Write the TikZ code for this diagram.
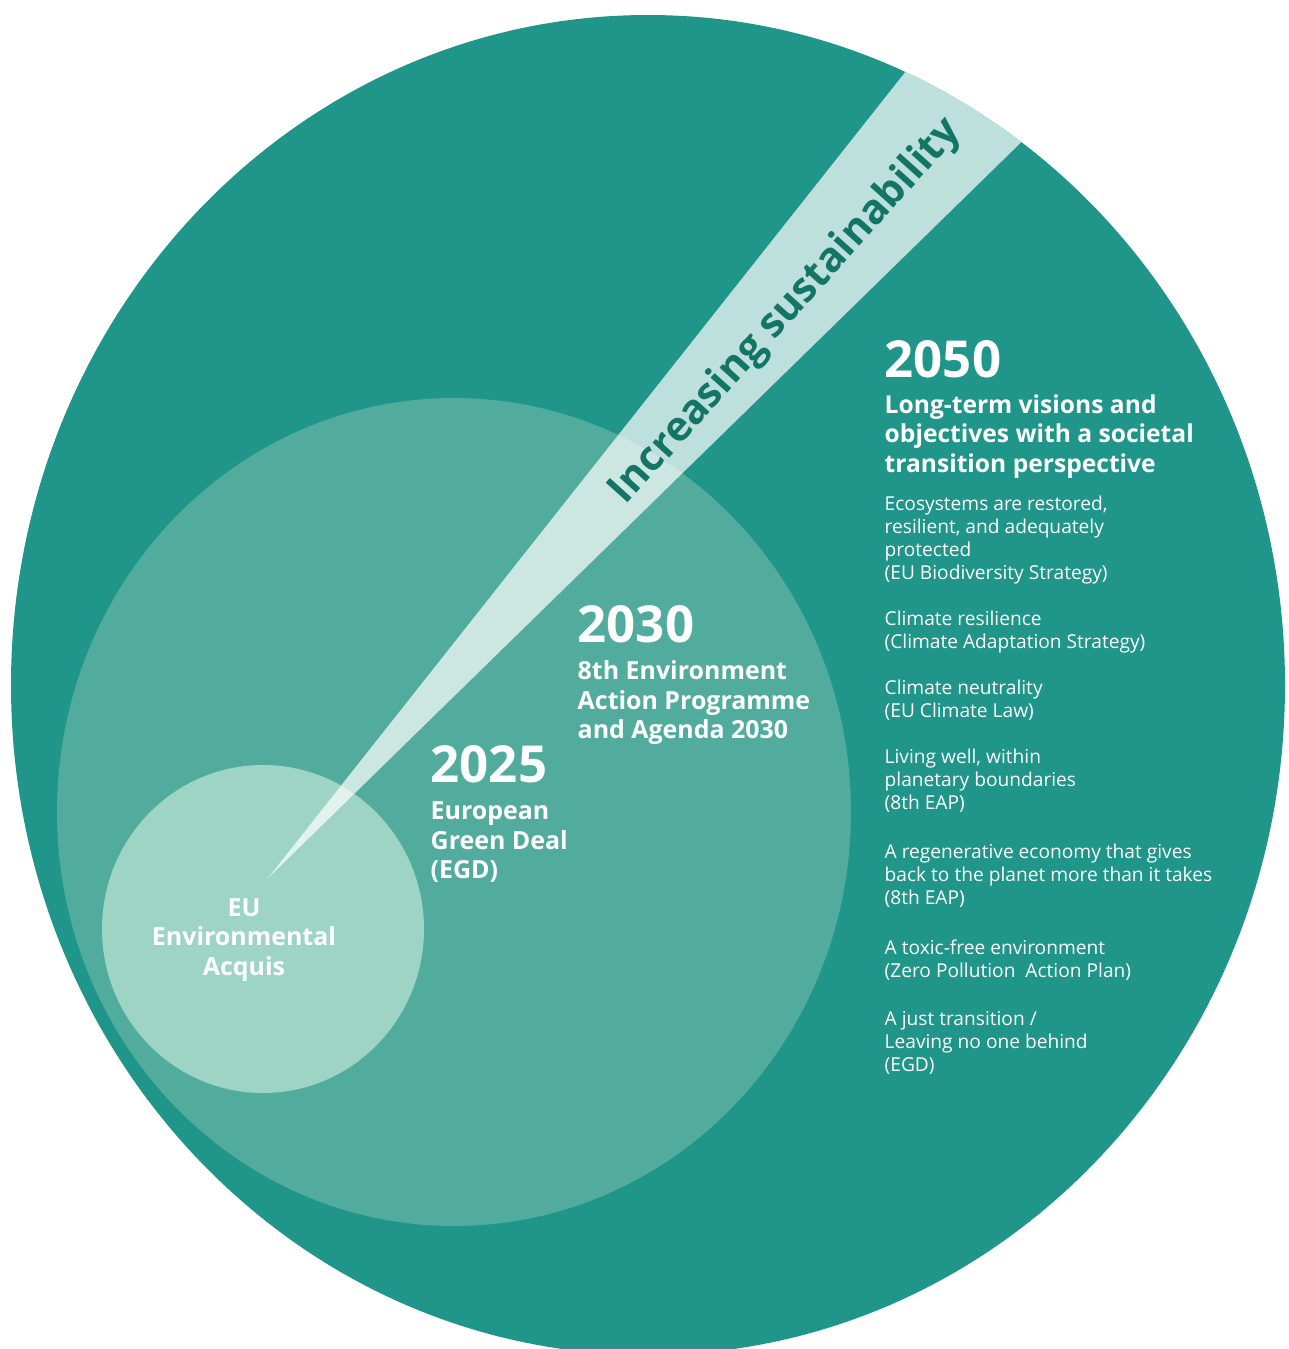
\documentclass[tikz,border=0pt]{standalone}
\usepackage{fontspec}
\setmainfont{Open Sans}

\definecolor{outerteal}{HTML}{20958A}
\definecolor{midteal}{HTML}{52AC9E}
\definecolor{innerteal}{HTML}{9DD4C4}
\definecolor{beamtext}{HTML}{137565}

\tikzset{
  year/.style={anchor=north west, inner sep=0pt, text=white,
    font=\bfseries\fontsize{14.5}{16}\selectfont},
  heading/.style={anchor=north west, inner sep=0pt, text=white, align=left,
    font=\bfseries\fontsize{7.1}{8.4}\selectfont},
  goal/.style={anchor=north west, inner sep=0pt, text=white, align=left,
    font=\fontsize{5.45}{6.54}\selectfont},
}

\begin{document}
\begin{tikzpicture}[x=0.1mm,y=-0.1mm]
\useasboundingbox (0,0) rectangle (1288,1349);

% nested circles
\fill[outerteal] (648,685) ellipse [x radius=637, y radius=670];
\fill[midteal] (454,812) ellipse [x radius=397, y radius=414];
\fill[innerteal] (263,929) ellipse [x radius=161, y radius=164];

% the beam, cut off at the outer circle
\coordinate (tip) at (268,878);
\begin{scope}
\clip (648,685) ellipse [x radius=637, y radius=670];
\fill[white, fill opacity=0.71] (tip) -- (1035,-92) -- (1175,-8) -- cycle;
\end{scope}
\draw (786,312)node[rotate=48, text=beamtext, font=\bfseries\fontsize{11.7}{13}\selectfont](beam){Increasing sustainability};

\draw (244,940)node[text=white, align=center, font=\bfseries\fontsize{7.1}{8.4}\selectfont](acquis){EU\\Environmental\\Acquis};

\draw (430,745)node[year](y2025){2025};
\draw (430,801)node[heading](egd){European\\Green Deal\\(EGD)};

\draw (577,605)node[year](y2030){2030};
\draw (577,660)node[heading](eap){8th Environment\\Action Programme\\and Agenda 2030};

\draw (884,340)node[year](y2050){2050};
\draw (884,394)node[heading, font=\bfseries\fontsize{7}{8.4}\selectfont](vision){Long-term visions and\\objectives with a societal\\transition perspective};

\draw (884,495)node[goal](g1){Ecosystems are restored,\\resilient, and adequately\\protected\\(EU Biodiversity Strategy)};
\draw (884,610)node[goal](g2){Climate resilience\\(Climate Adaptation Strategy)};
\draw (884,679)node[goal](g3){Climate neutrality\\(EU Climate Law)};
\draw (884,748)node[goal](g4){Living well, within\\planetary boundaries\\(8th EAP)};
\draw (884,843)node[goal](g5){A regenerative economy that gives\\back to the planet more than it takes\\(8th EAP)};
\draw (884,939)node[goal](g6){A toxic-free environment\\(Zero Pollution\ \ Action Plan)};
\draw (884,1011)node[goal](g7){A just transition /\\Leaving no one behind\\(EGD)};
\end{tikzpicture}
\end{document}
